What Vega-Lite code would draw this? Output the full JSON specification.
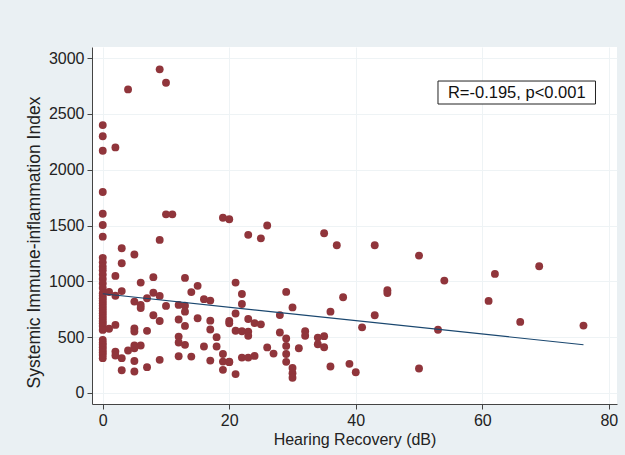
{
  "$schema": "https://vega.github.io/schema/vega-lite/v6.json",
  "autosize": "none",
  "width": 525,
  "height": 357,
  "padding": {"left": 92, "top": 47, "right": 8, "bottom": 51},
  "background": "#eaf0f3",
  "config": {
    "font": "Liberation Sans",
    "view": {"fill": "white", "stroke": null},
    "axis": {
      "labelFont": "Liberation Sans", "titleFont": "Liberation Sans",
      "labelFontSize": 16, "titleFontSize": 16, "titleFontWeight": "normal",
      "labelColor": "#222", "titleColor": "#222",
      "domainColor": "#444", "tickColor": "#444", "tickSize": 5,
      "gridColor": "#eef3f5", "gridWidth": 1
    }
  },
  "datasets": {
    "pts": [
      {"hr":0,"sii":2400},{"hr":0,"sii":2300},{"hr":0,"sii":2170},{"hr":0,"sii":1800},{"hr":0,"sii":1605},{"hr":0,"sii":1505},{"hr":0,"sii":1400},
      {"hr":0,"sii":1210},{"hr":0,"sii":1170},{"hr":0,"sii":1130},{"hr":0,"sii":1100},{"hr":0,"sii":1060},{"hr":0,"sii":1020},{"hr":0,"sii":980},
      {"hr":0,"sii":940},{"hr":0,"sii":893},{"hr":0,"sii":870},{"hr":0,"sii":849},{"hr":0,"sii":825},{"hr":0,"sii":804},{"hr":0,"sii":780},
      {"hr":0,"sii":759},{"hr":0,"sii":735},{"hr":0,"sii":714},{"hr":0,"sii":690},{"hr":0,"sii":669},{"hr":0,"sii":645},{"hr":0,"sii":624},
      {"hr":0,"sii":600},{"hr":0,"sii":564},{"hr":0,"sii":475},{"hr":0,"sii":450},{"hr":0,"sii":430},{"hr":0,"sii":408},{"hr":0,"sii":385},
      {"hr":0,"sii":362},{"hr":0,"sii":340},{"hr":0,"sii":311},
      {"hr":9,"sii":2900},{"hr":10,"sii":2780},{"hr":4,"sii":2720},{"hr":2,"sii":2200},
      {"hr":10,"sii":1600},{"hr":11,"sii":1600},{"hr":19,"sii":1570},{"hr":20,"sii":1556},{"hr":26,"sii":1500},{"hr":23,"sii":1416},
      {"hr":25,"sii":1385},{"hr":9,"sii":1371},{"hr":35,"sii":1431},{"hr":37,"sii":1323},{"hr":43,"sii":1323},{"hr":50,"sii":1230},
      {"hr":3,"sii":1296},{"hr":5,"sii":1240},{"hr":3,"sii":1162},{"hr":2,"sii":1048},{"hr":6,"sii":988},{"hr":8,"sii":1037},{"hr":13,"sii":1030},
      {"hr":15,"sii":959},{"hr":14,"sii":903},{"hr":1,"sii":904},{"hr":3,"sii":912},{"hr":2,"sii":870},{"hr":8,"sii":897},{"hr":9,"sii":869},
      {"hr":7,"sii":848},{"hr":5,"sii":818},{"hr":6,"sii":788},{"hr":6,"sii":760},{"hr":10,"sii":779},{"hr":12,"sii":788},{"hr":13,"sii":781},
      {"hr":13,"sii":728},{"hr":16,"sii":840},{"hr":17,"sii":827},{"hr":12,"sii":657},{"hr":13,"sii":600},{"hr":15,"sii":669},{"hr":17,"sii":647},
      {"hr":17,"sii":568},{"hr":18,"sii":499},{"hr":8,"sii":695},{"hr":9,"sii":644},{"hr":7,"sii":556},{"hr":5,"sii":577},{"hr":5,"sii":549},
      {"hr":1,"sii":575},{"hr":2,"sii":609},{"hr":12,"sii":504},{"hr":12,"sii":451},{"hr":13,"sii":430},{"hr":16,"sii":415},{"hr":18,"sii":415},
      {"hr":19,"sii":348},{"hr":17,"sii":289},{"hr":19,"sii":280},{"hr":19,"sii":206},{"hr":20,"sii":280},{"hr":12,"sii":328},{"hr":14,"sii":325},
      {"hr":9,"sii":296},{"hr":7,"sii":230},{"hr":5,"sii":191},{"hr":3,"sii":203},{"hr":2,"sii":370},{"hr":2,"sii":335},{"hr":3,"sii":311},
      {"hr":4,"sii":379},{"hr":5,"sii":424},{"hr":6,"sii":424},{"hr":5,"sii":400},{"hr":5,"sii":285},
      {"hr":21,"sii":988},{"hr":22,"sii":886},{"hr":22,"sii":796},{"hr":21,"sii":711},{"hr":20,"sii":644},{"hr":20,"sii":624},{"hr":23,"sii":662},
      {"hr":24,"sii":625},{"hr":25,"sii":614},{"hr":21,"sii":557},{"hr":22,"sii":552},{"hr":23,"sii":549},{"hr":23,"sii":511},{"hr":28,"sii":541},
      {"hr":29,"sii":905},{"hr":28,"sii":697},{"hr":30,"sii":766},{"hr":29,"sii":487},{"hr":29,"sii":421},{"hr":29,"sii":348},{"hr":29,"sii":278},
      {"hr":30,"sii":223},{"hr":30,"sii":176},{"hr":30,"sii":135},{"hr":31,"sii":400},{"hr":32,"sii":553},{"hr":32,"sii":512},{"hr":34,"sii":495},
      {"hr":34,"sii":436},{"hr":35,"sii":508},{"hr":35,"sii":409},{"hr":36,"sii":728},{"hr":38,"sii":857},{"hr":41,"sii":587},{"hr":43,"sii":696},
      {"hr":45,"sii":920},{"hr":45,"sii":895},{"hr":26,"sii":407},{"hr":27,"sii":352},{"hr":22,"sii":316},{"hr":23,"sii":316},{"hr":24,"sii":331},
      {"hr":20,"sii":275},{"hr":21,"sii":168},{"hr":36,"sii":236},{"hr":39,"sii":260},{"hr":40,"sii":185},{"hr":50,"sii":218},
      {"hr":54,"sii":1006},{"hr":62,"sii":1066},{"hr":69,"sii":1135},{"hr":61,"sii":824},{"hr":66,"sii":636},{"hr":76,"sii":603},{"hr":53,"sii":565}
    ],
    "fit": [{"hr":0,"sii":888},{"hr":76,"sii":431}]
  },
  "layer": [
    {
      "data": {"name": "pts"},
      "mark": {"type": "circle", "size": 62, "color": "#90353b", "opacity": 1},
      "encoding": {
        "x": {"field": "hr", "type": "quantitative",
              "scale": {"domain": [-1.7, 81.3], "nice": false, "zero": false},
              "axis": {"values": [0,20,40,60,80], "format": "d", "title": "Hearing Recovery (dB)", "labelPadding": 3, "titlePadding": 3, "grid": true}},
        "y": {"field": "sii", "type": "quantitative",
              "scale": {"domain": [-100, 3100], "nice": false, "zero": false},
              "axis": {"values": [0,500,1000,1500,2000,2500,3000], "format": "d", "title": "Systemic Immune-inflammation Index", "titleFontSize": 17.5, "titleY": 195, "labelPadding": 3, "titlePadding": 5, "grid": true}}
      }
    },
    {
      "data": {"name": "fit"},
      "mark": {"type": "line", "color": "#1a476f", "strokeWidth": 1.2},
      "encoding": {
        "x": {"field": "hr", "type": "quantitative"},
        "y": {"field": "sii", "type": "quantitative"}
      }
    },
    {
      "data": {"values": [{}]},
      "mark": {"type": "rect", "fill": "white", "stroke": "#222", "strokeWidth": 1},
      "encoding": {
        "x": {"datum": 53}, "x2": {"datum": 77.9},
        "y": {"datum": 2795}, "y2": {"datum": 2589}
      }
    },
    {
      "data": {"values": [{}]},
      "mark": {"type": "text", "text": "R=-0.195, p<0.001", "fontSize": 16.5, "color": "#111", "align": "center", "baseline": "middle"},
      "encoding": {
        "x": {"datum": 65.45},
        "y": {"datum": 2692}
      }
    }
  ]
}
